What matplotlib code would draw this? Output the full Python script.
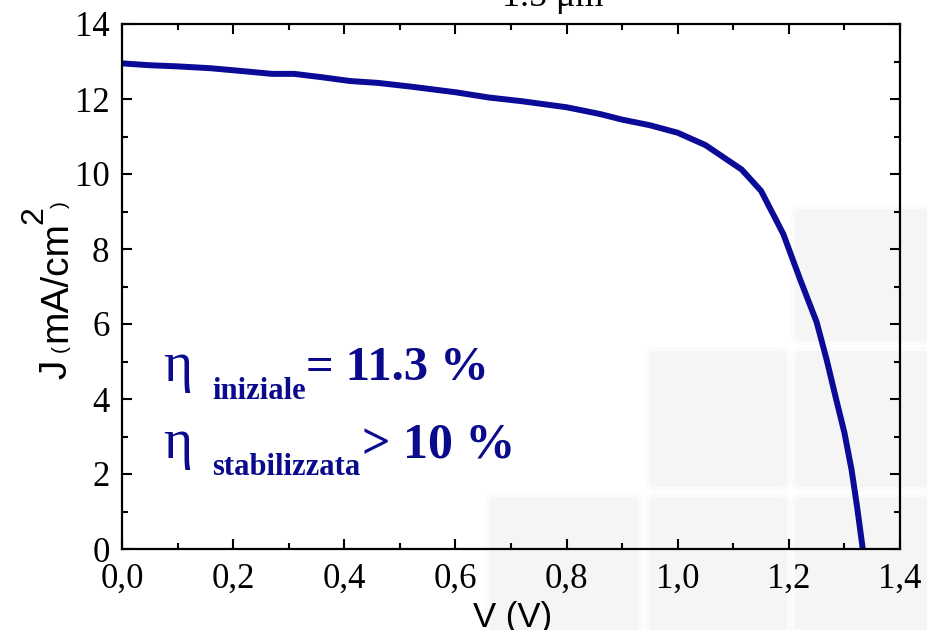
import numpy as np
import matplotlib
matplotlib.use('Agg')
import matplotlib.pyplot as plt
from matplotlib.patches import FancyBboxPatch

# J-V curve
V = [0.0, 0.05, 0.10, 0.16, 0.22, 0.27, 0.31, 0.36, 0.41, 0.46, 0.52, 0.60,
     0.66, 0.72, 0.80, 0.86, 0.90, 0.95, 1.00, 1.05, 1.08, 1.115, 1.15, 1.19,
     1.22, 1.25, 1.268, 1.285, 1.30, 1.313, 1.323, 1.333]
J = [12.95, 12.90, 12.87, 12.82, 12.74, 12.67, 12.67, 12.58, 12.48, 12.43, 12.33, 12.18,
     12.04, 11.94, 11.78, 11.60, 11.45, 11.30, 11.10, 10.77, 10.47, 10.12, 9.55, 8.40,
     7.20, 6.05, 5.05, 4.00, 3.10, 2.10, 1.10, 0.0]

xticks = [0.0, 0.2, 0.4, 0.6, 0.8, 1.0, 1.2, 1.4]
xticklabels = ['0,0', '0,2', '0,4', '0,6', '0,8', '1,0', '1,2', '1,4']
yticks = [0, 2, 4, 6, 8, 10, 12, 14]

W, H = 927, 630
serif = 'Liberation Serif'
sans = 'Liberation Sans'
navy = '#0a0a8c'

def fx(px):
    return px / W

def fy(py):
    return 1 - py / H

fig = plt.figure(figsize=(9.27, 6.3), dpi=100)

# faint background tiles
tiles = [(793, 207, 150, 136), (647, 349, 142, 140), (793, 349, 150, 140),
         (487, 495, 154, 140), (647, 495, 142, 140), (793, 495, 150, 140)]
for (tx, ty, tw, th) in tiles:
    p = FancyBboxPatch((fx(tx), fy(ty + th)), fx(tw), th / H,
                       boxstyle='round,pad=0,rounding_size=0.012',
                       transform=fig.transFigure, facecolor='#f5f5f6',
                       edgecolor='#fbfbfb', linewidth=3, zorder=0)
    fig.patches.append(p)

ax = fig.add_axes([fx(122), fy(549), fx(900 - 122), (549 - 24) / H])
ax.set_zorder(2)
ax.patch.set_alpha(0)

ax.plot(V, J, color='#0b0b98', linewidth=4.3, solid_capstyle='butt')

ax.set_xlim(0, 1.4)
ax.set_ylim(0, 14)
ax.set_xticks(xticks)
ax.set_xticklabels(xticklabels)
ax.set_yticks(yticks)
ax.set_xticks(np.arange(0.1, 1.4, 0.2), minor=True)
ax.set_yticks(np.arange(1, 14, 2), minor=True)
ax.tick_params(which='both', direction='in', top=True, right=True, width=1.5)
ax.tick_params(which='major', length=7, labelsize=25)
ax.tick_params(axis='x', which='major', pad=10)
ax.tick_params(axis='y', which='major', pad=9)
ax.tick_params(which='minor', length=4)
for lab in ax.get_xticklabels() + ax.get_yticklabels():
    lab.set_fontfamily(serif)
for s in ax.spines.values():
    s.set_linewidth(1.6)

# title (cut at the top in the original)
fig.text(fx(553), fy(6), '1.5 \u03bcm', family=serif, fontsize=26,
         ha='center', va='baseline', zorder=3)

# x label
fig.text(fx(513), fy(627), 'V (V)', family=sans, fontsize=25,
         ha='center', va='baseline', zorder=3)

# y label, built from pieces
def ytxt(px, py, s, size):
    fig.text(fx(px), fy(py), s, family=sans, fontsize=size, rotation=90,
             rotation_mode='anchor', ha='left', va='baseline', zorder=3)

ytxt(66, 379, 'J', 28)
ytxt(66, 352, '(', 15)
ytxt(66, 342, 'mA/cm', 28)
ytxt(42, 224, '2', 23)
ytxt(66, 208, ')', 15)

# efficiency annotations
def etxt(px, py, s, size, weight='bold'):
    fig.text(fx(px), fy(py), s, family=serif, fontsize=size, weight=weight,
             color=navy, ha='left', va='baseline', zorder=3)

etxt(163, 381, '\u03b7', 40, 'normal')
etxt(212, 399, 'iniziale', 22)
etxt(306, 380, '= 11.3 %', 35)

etxt(163, 458, '\u03b7', 40, 'normal')
etxt(212, 475, 'stabilizzata', 22)
etxt(362, 458, '> 10 %', 36)

fig.savefig('out.png', dpi=100)
